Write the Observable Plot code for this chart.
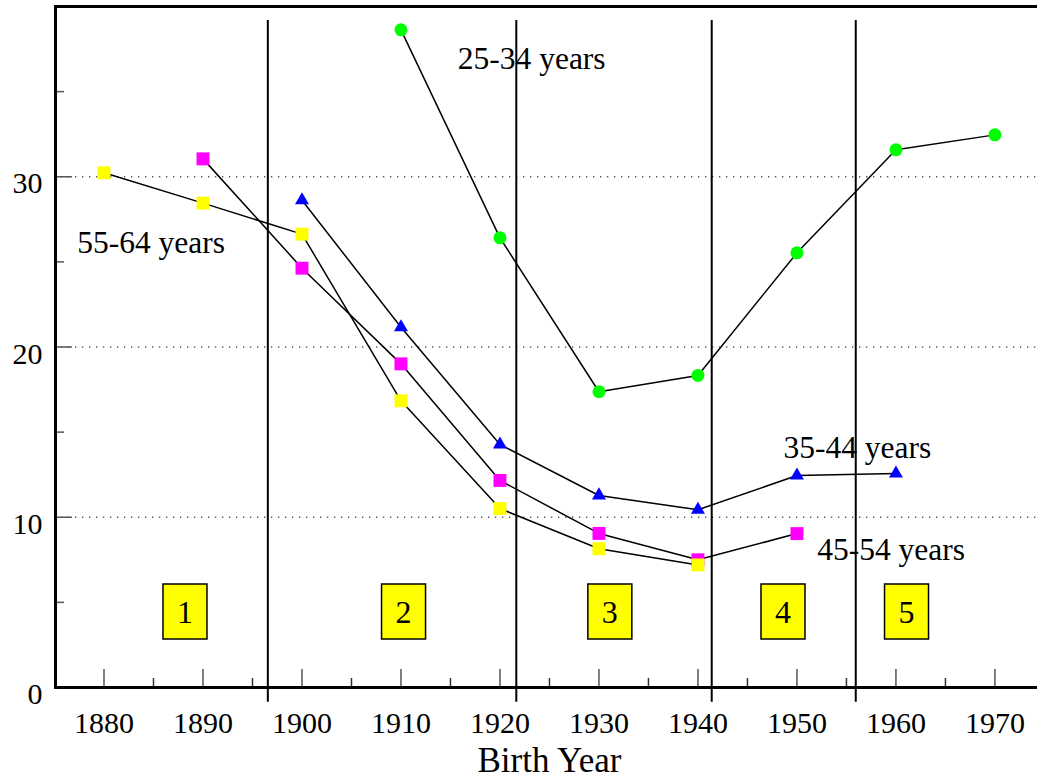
<!DOCTYPE html>
<html><head><meta charset="utf-8">
<script src="https://cdn.jsdelivr.net/npm/d3@7"></script>
<script src="https://cdn.jsdelivr.net/npm/@observablehq/plot@0.6"></script>
<style>body{margin:0;background:#fff;overflow:hidden} svg{display:block}</style>
</head><body><div id="chart"></div>
<script>
// ---- data ----
const years2534 = [1910, 1920, 1930, 1940, 1950, 1960, 1970];
const values2534 = [38.63, 26.41, 17.37, 18.33, 25.53, 31.58, 32.46];
const years3544 = [1900, 1910, 1920, 1930, 1940, 1950, 1960];
const values3544 = [28.62, 21.16, 14.27, 11.28, 10.44, 12.45, 12.57];
const years4554 = [1890, 1900, 1910, 1920, 1930, 1940, 1950];
const values4554 = [31.05, 24.63, 19.01, 12.16, 9.05, 7.5, 9.04];
const years5564 = [1880, 1890, 1900, 1910, 1920, 1930, 1940];
const values5564 = [30.23, 28.45, 26.63, 16.84, 10.51, 8.15, 7.2];

const seriesLabels = ["25-34 years", "35-44 years", "45-54 years", "55-64 years"];
const seriesLabelX = [1915.74, 1948.64, 1952.05, 1877.29];
const seriesLabelY = [36.94, 14.07, 8.06, 26.13];

const generationDividers = [1896.55, 1921.65, 1941.39, 1955.94];
const generationLabels = ["1", "2", "3", "4", "5"];
const generationX = [1888.18, 1910.26, 1931.1, 1948.59, 1961.07];
const generationY = [4.46, 4.46, 4.46, 4.46, 4.46];

const xMajorTicks = [1880, 1890, 1900, 1910, 1920, 1930, 1940, 1950, 1960, 1970];
const xMinorTicks = [1885, 1895, 1905, 1915, 1925, 1935, 1945, 1955, 1965];
const yMajorTicks = [0, 10, 20, 30];
const yMinorTicks = [5, 15, 25, 35];
const yGrid = [10, 20, 30];
const xTitle = "Birth Year";

// ---- tables ----
const mk = (xs, ys) => xs.map((x, i) => ({x, y: ys[i]}));
const s2534 = mk(years2534, values2534);
const s3544 = mk(years3544, values3544);
const s4554 = mk(years4554, values4554);
const s5564 = mk(years5564, values5564);
const labels = seriesLabels.map((t, i) => ({t, x: seriesLabelX[i], y: seriesLabelY[i]}));
const gens = generationLabels.map((t, i) => ({t, x: generationX[i], y: generationY[i]}));

const boxSymbol = {draw(ctx) { ctx.moveTo(-22, -27.5); ctx.lineTo(22, -27.5); ctx.lineTo(22, 27.5); ctx.lineTo(-22, 27.5); ctx.closePath(); }};

const W = 1037, H = 779, mL = 54, mR = 0, mT = 6, mB = 92;
const plotW = W - mL - mR, plotH = H - mT - mB;
const serif = "'Liberation Serif', 'Times New Roman', serif";
const lineStyle = {x: "x", y: "y", stroke: "black", strokeWidth: 1.5};

const chart = Plot.plot({
  width: W, height: H,
  marginLeft: mL, marginRight: mR, marginTop: mT, marginBottom: mB,
  style: {fontFamily: serif, fontSize: "30px", background: "white", color: "black"},
  x: {domain: [1875, 1974.3], axis: null},
  y: {domain: [0, 40], axis: null},
  marks: [
    Plot.ruleY(yGrid, {stroke: "#555", strokeWidth: 1.3, strokeDasharray: "1.3,5.7"}),
    Plot.tickY(yMajorTicks, {insetRight: plotW - 18, stroke: "#555", strokeWidth: 1.5}),
    Plot.tickY(yMinorTicks, {insetRight: plotW - 10, stroke: "#555", strokeWidth: 1.5}),
    Plot.tickX(xMajorTicks, {insetTop: plotH - 18, stroke: "#555", strokeWidth: 1.5}),
    Plot.tickX(xMinorTicks, {insetTop: plotH - 9, stroke: "#333", strokeWidth: 1.5}),
    Plot.ruleX(generationDividers, {y1: -0.86, y2: 39.18, stroke: "black", strokeWidth: 2}),
    Plot.ruleY([0, 40], {stroke: "black", strokeWidth: 3}),
    Plot.ruleX([1875], {stroke: "black", strokeWidth: 3, dx: 1}),
    Plot.text(xMajorTicks, {x: d => d, frameAnchor: "bottom", lineAnchor: "top", textAnchor: "middle", dy: 24, text: d => String(d), fontSize: 30, fontFamily: serif}),
    Plot.text(yMajorTicks, {y: d => d, frameAnchor: "left", lineAnchor: "middle", textAnchor: "end", dx: -12, dy: 7, text: d => String(d), fontSize: 30, fontFamily: serif}),
    Plot.text([xTitle], {x: () => 1925, frameAnchor: "bottom", lineAnchor: "middle", textAnchor: "middle", dy: 73.5, text: d => d, fontSize: 35, fontFamily: serif}),
    Plot.line(s2534, lineStyle),
    Plot.dot(s2534, {x: "x", y: "y", symbol: "circle", r: 6.5, fill: "#00ff00"}),
    Plot.line(s3544, lineStyle),
    Plot.dot(s3544, {x: "x", y: "y", symbol: "triangle", r: 5.2, fill: "#0000ff"}),
    Plot.line(s4554, lineStyle),
    Plot.dot(s4554, {x: "x", y: "y", symbol: "square", r: 7.3, fill: "#ff00ff"}),
    Plot.line(s5564, lineStyle),
    Plot.dot(s5564, {x: "x", y: "y", symbol: "square", r: 7.3, fill: "#ffff00"}),
    Plot.text(labels, {x: "x", y: "y", text: "t", textAnchor: "start", lineAnchor: "middle", fontSize: 31.5, fontFamily: serif}),
    Plot.dot(gens, {x: "x", y: "y", symbol: boxSymbol, r: 10, fill: "#ffff00", stroke: "black", strokeWidth: 1.5}),
    Plot.text(gens, {x: "x", y: "y", text: "t", lineAnchor: "middle", fontSize: 32, dy: 1, fontFamily: serif})
  ]
});
document.getElementById("chart").appendChild(chart);
</script>
</body></html>
